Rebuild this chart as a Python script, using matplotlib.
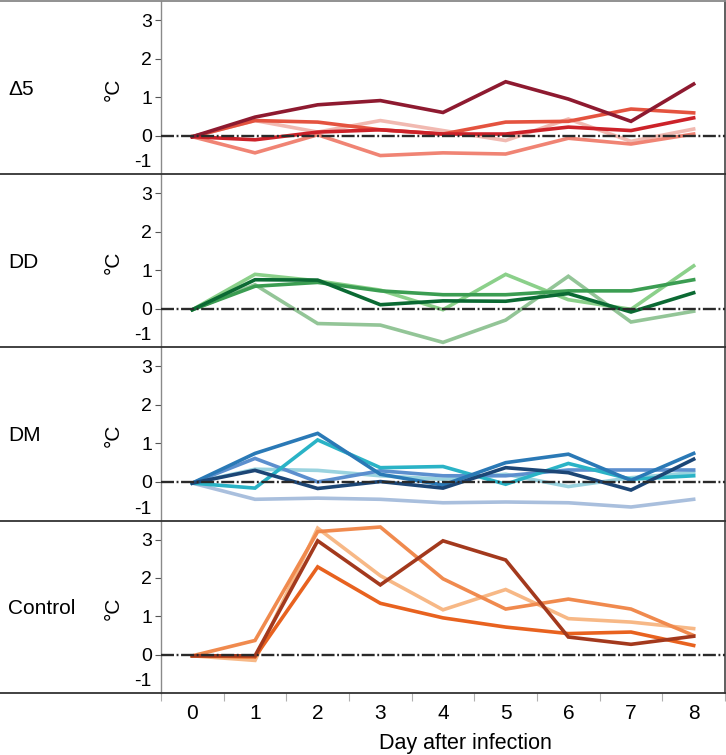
import matplotlib
matplotlib.use("Agg")
import matplotlib.pyplot as plt
from matplotlib.lines import Line2D

days = [0, 1, 2, 3, 4, 5, 6, 7, 8]
groups = ["\u03945", "DD", "DM", "Control"]

# delta-5 group
d5_pink = [-0.03, 0.39, 0.09, 0.39, 0.13, -0.13, 0.43, -0.15, 0.17]
d5_salmon = [-0.03, -0.45, 0.02, -0.52, -0.45, -0.48, -0.07, -0.22, 0.04]
d5_orange = [-0.03, 0.39, 0.35, 0.15, 0.04, 0.35, 0.37, 0.69, 0.59]
d5_red = [-0.03, -0.11, 0.09, 0.15, 0.04, 0.04, 0.22, 0.13, 0.46]
d5_dark = [-0.03, 0.48, 0.80, 0.91, 0.60, 1.40, 0.95, 0.37, 1.34]

# DD group
dd_pale = [-0.03, 0.62, -0.39, -0.43, -0.88, -0.30, 0.84, -0.35, -0.07]
dd_light = [-0.03, 0.89, 0.72, 0.48, -0.03, 0.89, 0.23, -0.02, 1.11]
dd_mid = [-0.03, 0.58, 0.68, 0.46, 0.36, 0.36, 0.46, 0.46, 0.75]
dd_dark = [-0.03, 0.75, 0.74, 0.10, 0.20, 0.19, 0.39, -0.09, 0.41]

# DM group
dm_pale = [-0.03, -0.45, -0.42, -0.45, -0.54, -0.52, -0.54, -0.65, -0.45]
dm_lightcyan = [-0.03, 0.33, 0.30, 0.16, 0.07, 0.20, -0.12, 0.11, 0.24]
dm_slate = [-0.03, 0.61, 0.00, 0.29, 0.16, 0.16, 0.31, 0.31, 0.31]
dm_cyan = [-0.03, -0.16, 1.09, 0.37, 0.40, -0.06, 0.48, 0.07, 0.16]
dm_blue = [-0.03, 0.74, 1.26, 0.20, -0.08, 0.50, 0.72, 0.04, 0.74]
dm_navy = [-0.03, 0.30, -0.17, 0.01, -0.16, 0.37, 0.24, -0.21, 0.59]

# Control group
ct_light = [-0.03, -0.15, 3.30, 2.06, 1.17, 1.70, 0.94, 0.85, 0.68]
ct_mid = [-0.03, 0.37, 3.21, 3.33, 1.98, 1.19, 1.45, 1.19, 0.50]
ct_dark = [-0.03, -0.06, 2.29, 1.34, 0.96, 0.72, 0.55, 0.59, 0.24]
ct_brown = [-0.03, -0.03, 2.97, 1.82, 2.97, 2.47, 0.46, 0.27, 0.48]

panels = [
    [(d5_pink, "#f1b9b1"), (d5_salmon, "#f08474"), (d5_orange, "#e4533f"),
     (d5_red, "#cc2229"), (d5_dark, "#8e1a30")],
    [(dd_pale, "#93c597"), (dd_light, "#8bd08a"), (dd_mid, "#3b9d52"),
     (dd_dark, "#0b6a33")],
    [(dm_pale, "#a9bfdd"), (dm_lightcyan, "#9ad3df"), (dm_slate, "#5c8fce"),
     (dm_cyan, "#2ab3c6"), (dm_blue, "#2a79b6"), (dm_navy, "#1c4676")],
    [(ct_light, "#f7b886"), (ct_mid, "#f08a4e"), (ct_dark, "#e8621f"),
     (ct_brown, "#a3391d")],
]

W, H = 726, 755
fig = plt.figure(figsize=(W / 100, H / 100), dpi=100)

font = ["Liberation Sans", "DejaVu Sans"]

bounds = [1, 174, 347, 520.5, 693]
x0, x1 = 161, 725

for i, lines in enumerate(panels):
    top, bot = bounds[i], bounds[i + 1]
    ax = fig.add_axes([x0 / W, 1 - bot / H, (x1 - x0) / W, (bot - top) / H])
    ax.axhline(0, color="#2a2a2a", lw=1.7, dashes=(5.5, 1.1, 0.8, 1.1), zorder=5)
    for vals, col in lines:
        ax.plot(days, vals, color=col, lw=2.6, solid_joinstyle="miter", zorder=3)
    ax.set_xlim(-0.5, 8.5)
    ax.set_ylim(-1, 3.5)
    ax.set_yticks([0, 1, 2, 3])
    ax.set_yticklabels(["0", "1", "2", "3"], fontfamily=font, fontsize=14)
    ax.tick_params(axis="y", length=4.5, width=0.8, color="#555555", pad=2)
    ax.annotate("-1", xy=(0, -1), xycoords=("axes fraction", "data"),
                xytext=(-6.5, 8), textcoords="offset points",
                ha="right", va="center", fontfamily=font, fontsize=14)
    for s in ["top", "bottom"]:
        ax.spines[s].set_visible(False)
    ax.spines["left"].set_color("#8a8a8a")
    ax.spines["left"].set_linewidth(1.0)
    ax.spines["right"].set_color("#444444")
    ax.spines["right"].set_linewidth(1.2)
    if i < 3:
        ax.set_xticks([])
    else:
        ax.set_xticks([d + 0.5 for d in [-1] + days])
        ax.set_xticks(days, minor=True)
        ax.set_xticklabels([])
        ax.set_xticklabels([str(d) for d in days], minor=True,
                           fontfamily=font, fontsize=15)
        ax.tick_params(axis="x", which="major", length=6, width=0.8,
                       color="#b0b0b0", direction="out")
        ax.tick_params(axis="x", which="minor", length=0, pad=8)
    mid = 1 - ((top + bot) / 2 + 2) / H
    fig.text(8 / W, mid, groups[i], ha="left", va="center",
             fontfamily=font, fontsize=15)
    fig.text(113 / W, mid, "\u00b0C", ha="center", va="center", rotation=90,
             fontfamily=font, fontsize=15)

for j, yb in enumerate(bounds):
    col = "#888888" if j == 0 else "#333333"
    fig.add_artist(Line2D([0, 1], [1 - yb / H, 1 - yb / H], color=col,
                          lw=1.3, transform=fig.transFigure))

fig.text(465 / W, 1 - 743 / H, "Day after infection", ha="center",
         va="center", fontfamily=font, fontsize=15.5)

fig.savefig("out.png", dpi=100)
